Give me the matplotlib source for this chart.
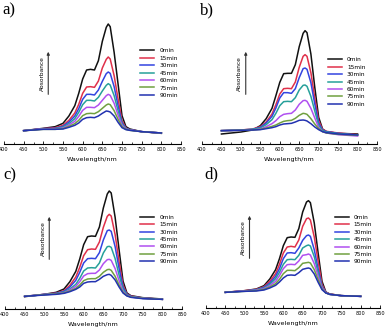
import numpy as np
import matplotlib
matplotlib.use('Agg')
import matplotlib.pyplot as plt

# wavelengths (nm) and absorbance curves (arbitrary units)
wavelength = [450, 500, 530, 550, 565, 580, 590, 600, 610, 620, 630, 640,
              650, 660, 665, 670, 680, 690, 700, 710, 720, 750, 800]
labels = ['0min', '15min', '30min', '45min', '60min', '75min', '90min']
colors = ['#111111', '#e0304a', '#3344e0', '#26a09a', '#b050f0', '#70a040', '#2232b0']

spec_a = [
    [40, 47, 52, 62, 84, 115, 152, 195, 222, 224, 222, 250, 308, 350, 360, 352, 275, 180, 85, 52, 45, 37, 32],
    [40, 46, 49, 56, 71, 93, 119, 152, 171, 172, 170, 189, 228, 254, 261, 255, 205, 135, 70, 48, 43, 37, 33],
    [40, 46, 47, 53, 66, 84, 106, 134, 149, 149, 147, 162, 188, 211, 216, 212, 172, 115, 64, 47, 43, 37, 33],
    [40, 45, 46, 51, 61, 76, 95, 118, 131, 131, 129, 140, 159, 176, 181, 177, 145, 100, 60, 46, 42, 37, 33],
    [40, 45, 45, 48, 57, 68, 83, 101, 110, 110, 109, 117, 131, 145, 149, 146, 122, 87, 56, 45, 42, 37, 33],
    [40, 44, 44, 46, 53, 61, 71, 85, 91, 92, 91, 97, 107, 117, 120, 118, 100, 74, 52, 44, 41, 37, 33],
    [40, 44, 44, 45, 50, 56, 63, 74, 79, 80, 79, 84, 92, 99, 98, 96, 84, 65, 49, 43, 41, 37, 33],
]
spec_b = [
    [30, 36, 42, 55, 76, 107, 145, 185, 211, 212, 212, 238, 292, 332, 340, 334, 270, 170, 80, 45, 37, 32, 30],
    [40, 42, 45, 52, 66, 90, 118, 150, 166, 167, 166, 186, 230, 263, 268, 263, 214, 138, 70, 44, 38, 33, 28],
    [40, 42, 44, 50, 63, 83, 108, 138, 154, 154, 152, 166, 199, 226, 228, 224, 184, 120, 63, 42, 37, 32, 27],
    [40, 42, 44, 48, 58, 73, 92, 115, 127, 128, 127, 139, 162, 176, 177, 173, 143, 99, 56, 40, 36, 31, 27],
    [40, 41, 42, 45, 52, 61, 70, 82, 89, 91, 92, 102, 119, 130, 131, 128, 107, 78, 50, 37, 33, 28, 24],
    [40, 41, 42, 44, 48, 53, 57, 63, 68, 70, 71, 77, 86, 92, 91, 89, 76, 60, 46, 37, 33, 29, 26],
    [40, 41, 42, 43, 46, 49, 52, 57, 60, 61, 62, 66, 71, 72, 71, 69, 61, 51, 43, 37, 34, 30, 27],
]
spec_c = [
    [37, 44, 50, 60, 82, 113, 150, 193, 217, 219, 218, 246, 303, 345, 354, 348, 275, 178, 84, 48, 40, 34, 30],
    [38, 44, 48, 55, 71, 96, 125, 160, 178, 180, 179, 201, 245, 278, 284, 279, 223, 142, 72, 45, 39, 33, 29],
    [38, 44, 47, 53, 66, 86, 110, 138, 151, 152, 151, 169, 207, 235, 237, 233, 187, 122, 66, 44, 38, 33, 29],
    [38, 43, 46, 51, 60, 74, 92, 114, 123, 124, 123, 138, 168, 187, 188, 185, 151, 102, 60, 42, 37, 32, 29],
    [38, 43, 45, 49, 57, 68, 82, 99, 106, 107, 107, 117, 136, 148, 149, 146, 121, 85, 53, 41, 36, 32, 29],
    [38, 43, 45, 48, 54, 62, 72, 85, 90, 91, 91, 98, 110, 118, 119, 116, 98, 72, 50, 40, 36, 32, 29],
    [38, 42, 44, 47, 52, 59, 66, 77, 81, 82, 82, 89, 98, 103, 104, 101, 87, 66, 48, 39, 35, 31, 29],
]
spec_d = [
    [47, 52, 57, 67, 87, 115, 148, 187, 211, 213, 212, 238, 288, 318, 322, 316, 255, 165, 80, 48, 42, 37, 35],
    [47, 52, 56, 64, 80, 103, 131, 165, 183, 185, 183, 204, 245, 268, 270, 264, 213, 140, 71, 47, 42, 37, 35],
    [47, 51, 55, 62, 75, 95, 118, 148, 165, 166, 164, 180, 203, 217, 219, 215, 175, 117, 65, 46, 41, 37, 35],
    [47, 51, 54, 60, 71, 88, 107, 131, 145, 146, 145, 158, 180, 187, 189, 186, 154, 106, 62, 46, 41, 37, 35],
    [47, 51, 53, 58, 67, 80, 97, 118, 130, 131, 130, 141, 158, 160, 162, 159, 133, 96, 60, 46, 41, 37, 35],
    [47, 50, 52, 56, 63, 73, 86, 103, 113, 113, 112, 121, 134, 136, 137, 135, 115, 85, 57, 45, 41, 37, 35],
    [47, 50, 51, 54, 60, 68, 78, 90, 98, 99, 98, 106, 116, 119, 120, 118, 102, 77, 55, 45, 41, 37, 35],
]

W, H = 387, 330
fig = plt.figure(figsize=(W / 100, H / 100), dpi=100)

# panel letter, data, x of 400nm, x of 850nm, y of axis line (pixels), legend anchor
panels = [
    ('a)', spec_a, 4, 181, 144, (0.77, 0.755)),
    ('b)', spec_b, 202, 377, 144, (0.72, 0.685)),
    ('c)', spec_c, 5, 182, 309, (0.765, 0.745)),
    ('d)', spec_d, 206, 380, 308, (0.74, 0.735)),
]
ytop = 380

for name, spec, x0, x1, ybase, leg in panels:
    h = ytop / 3.0
    ax = fig.add_axes([x0 / W, (H - ybase) / H, (x1 - x0) / W, h / H])
    for vals, lab, c in zip(spec, labels, colors):
        ax.plot(wavelength, vals, color=c, lw=1.1, label=lab)
    ax.set_xlim(400, 850)
    ax.set_ylim(0, ytop)
    for s in ['top', 'right', 'left']:
        ax.spines[s].set_visible(False)
    ax.spines['bottom'].set_linewidth(0.8)
    ax.set_yticks([])
    ax.set_xticks(np.arange(400, 851, 50))
    ax.set_xticks(np.arange(400, 851, 25), minor=True)
    ax.tick_params(axis='x', which='major', direction='in', length=2.5, width=0.6,
                   labelsize=3.6, pad=2.5)
    ax.tick_params(axis='x', which='minor', direction='in', length=1.5, width=0.5)
    ax.set_xlabel('Wavelength/nm', fontsize=4.6, labelpad=3)

    ax.legend(loc='upper left', bbox_to_anchor=leg, fontsize=4.2,
              frameon=False, handlelength=2.4, labelspacing=0.4, handletextpad=0.85,
              borderaxespad=0, borderpad=0)

    # absorbance arrow
    ax.annotate('', xy=(0.25, 0.75), xytext=(0.25, 0.37), xycoords='axes fraction',
                arrowprops=dict(arrowstyle='-|>', color='#333333', lw=0.8,
                                mutation_scale=4))
    ax.text(0.215, 0.56, 'Absorbance', transform=ax.transAxes, rotation=90,
            fontsize=4.2, ha='center', va='center')

    fig.text((x0 - 2) / W, 1 - (ybase - 134) / H, name, fontsize=12,
             family='Liberation Serif', ha='left', va='center')

fig.savefig('out.png', dpi=100)
